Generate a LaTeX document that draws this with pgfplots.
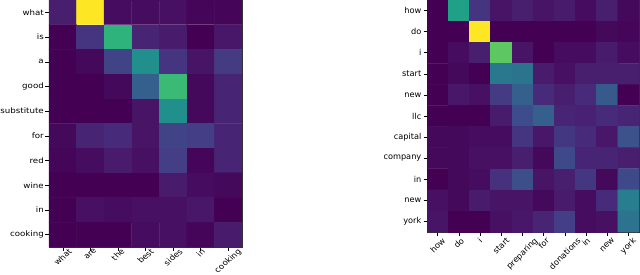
\documentclass[border=0pt]{standalone}
\usepackage{pgfplots}
\pgfplotsset{compat=1.18}
\usepackage{graphicx}
\usepackage{fontspec}
\setmainfont{DejaVu Sans}
\newcommand{\rl}[1]{\rotatebox{45}{#1}}
\newcommand{\lxl}[1]{\scalebox{1.14}[1]{\rotatebox{45}{#1}}}
\newcommand{\lyl}[1]{\scalebox{1.14}[1]{#1}}
\begin{document}
\begin{tikzpicture}
\pgfplotsset{
  hm/.style={
    scale only axis,
    y dir=reverse,
    enlargelimits=false,
    colormap/viridis,
    point meta min=0, point meta max=1,
    xtick pos=bottom, ytick pos=left,
    tick align=outside,
    major tick length=3.5pt,
    tick style={black, line width=0.5pt},
    axis line style={line width=0.6pt, black!80},
    x tick label style={anchor=north, inner sep=1.5pt},
    y tick label style={inner sep=2pt},
  }
}
\begin{axis}[hm, at={(49pt,0pt)}, anchor=north west, width=193pt, height=247pt,
  ticklabel style={font=\fontsize{7.6}{9}\selectfont},
  x tick label style={inner sep=0.5pt, yshift=3pt},
  y tick label style={inner sep=1.5pt},
  xmin=-0.5, xmax=6.5, ymin=-0.5, ymax=9.5,
  xtick={0,...,6}, ytick={0,...,9},
  xticklabels={\lxl{what},\lxl{are},\lxl{the},\lxl{best},\lxl{sides},\lxl{in},\lxl{cooking}},
  yticklabels={\lyl{what},\lyl{is},\lyl{a},\lyl{good},\lyl{substitute},\lyl{for},\lyl{red},\lyl{wine},\lyl{in},\lyl{cooking}}]
\addplot[matrix plot*, mesh/cols=7, point meta=explicit] coordinates {
(0,0)[0.08] (1,0)[1.00] (2,0)[0.03] (3,0)[0.03] (4,0)[0.04] (5,0)[0.01] (6,0)[0.01]

(0,1)[0.00] (1,1)[0.15] (2,1)[0.65] (3,1)[0.10] (4,1)[0.07] (5,1)[0.00] (6,1)[0.06]

(0,2)[0.00] (1,2)[0.02] (2,2)[0.20] (3,2)[0.50] (4,2)[0.15] (5,2)[0.05] (6,2)[0.17]

(0,3)[0.00] (1,3)[0.00] (2,3)[0.02] (3,3)[0.30] (4,3)[0.68] (5,3)[0.02] (6,3)[0.10]

(0,4)[0.00] (1,4)[0.00] (2,4)[0.00] (3,4)[0.05] (4,4)[0.50] (5,4)[0.02] (6,4)[0.10]

(0,5)[0.02] (1,5)[0.10] (2,5)[0.12] (3,5)[0.05] (4,5)[0.20] (5,5)[0.18] (6,5)[0.10]

(0,6)[0.01] (1,6)[0.03] (2,6)[0.07] (3,6)[0.04] (4,6)[0.18] (5,6)[0.01] (6,6)[0.10]

(0,7)[0.00] (1,7)[0.00] (2,7)[0.00] (3,7)[0.00] (4,7)[0.07] (5,7)[0.03] (6,7)[0.02]

(0,8)[0.00] (1,8)[0.04] (2,8)[0.03] (3,8)[0.04] (4,8)[0.04] (5,8)[0.06] (6,8)[0.00]

(0,9)[0.00] (1,9)[0.00] (2,9)[0.00] (3,9)[0.03] (4,9)[0.04] (5,9)[0.01] (6,9)[0.07]
};
\end{axis}
\begin{axis}[hm, at={(427pt,0pt)}, anchor=north west, width=212pt, height=232pt,
  ticklabel style={font=\fontsize{8.2}{10}\selectfont},
  xmin=-0.5, xmax=9.5, ymin=-0.5, ymax=10.5,
  xtick={0,...,9}, ytick={0,...,10},
  xticklabels={\rl{how},\rl{do},\rl{i},\rl{start},\rl{preparing},\rl{for},\rl{donations},\rl{in},\rl{new},\rl{york}},
  yticklabels={how,do,i,start,new,llc,capital,company,in,new,york}]
\addplot[matrix plot*, mesh/cols=10, point meta=explicit] coordinates {
(0,0)[0.00] (1,0)[0.57] (2,0)[0.15] (3,0)[0.05] (4,0)[0.08] (5,0)[0.05] (6,0)[0.07] (7,0)[0.03] (8,0)[0.08] (9,0)[0.02]

(0,1)[0.00] (1,1)[0.00] (2,1)[1.00] (3,1)[0.00] (4,1)[0.00] (5,1)[0.00] (6,1)[0.00] (7,1)[0.00] (8,1)[0.02] (9,1)[0.01]

(0,2)[0.00] (1,2)[0.03] (2,2)[0.08] (3,2)[0.75] (4,2)[0.05] (5,2)[0.00] (6,2)[0.03] (7,2)[0.03] (8,2)[0.07] (9,2)[0.03]

(0,3)[0.00] (1,3)[0.02] (2,3)[0.00] (3,3)[0.40] (4,3)[0.38] (5,3)[0.07] (6,3)[0.04] (7,3)[0.08] (8,3)[0.08] (9,3)[0.08]

(0,4)[0.00] (1,4)[0.06] (2,4)[0.04] (3,4)[0.17] (4,4)[0.30] (5,4)[0.12] (6,4)[0.08] (7,4)[0.12] (8,4)[0.28] (9,4)[0.00]

(0,5)[0.00] (1,5)[0.00] (2,5)[0.00] (3,5)[0.07] (4,5)[0.23] (5,5)[0.30] (6,5)[0.10] (7,5)[0.09] (8,5)[0.12] (9,5)[0.10]

(0,6)[0.02] (1,6)[0.02] (2,6)[0.03] (3,6)[0.03] (4,6)[0.15] (5,6)[0.06] (6,6)[0.16] (7,6)[0.12] (8,6)[0.06] (9,6)[0.25]

(0,7)[0.02] (1,7)[0.02] (2,7)[0.04] (3,7)[0.04] (4,7)[0.08] (5,7)[0.02] (6,7)[0.22] (7,7)[0.10] (8,7)[0.10] (9,7)[0.08]

(0,8)[0.00] (1,8)[0.02] (2,8)[0.03] (3,8)[0.14] (4,8)[0.24] (5,8)[0.05] (6,8)[0.08] (7,8)[0.16] (8,8)[0.02] (9,8)[0.22]

(0,9)[0.04] (1,9)[0.02] (2,9)[0.07] (3,9)[0.05] (4,9)[0.05] (5,9)[0.02] (6,9)[0.07] (7,9)[0.03] (8,9)[0.12] (9,9)[0.42]

(0,10)[0.05] (1,10)[0.00] (2,10)[0.00] (3,10)[0.04] (4,10)[0.06] (5,10)[0.10] (6,10)[0.18] (7,10)[0.03] (8,10)[0.04] (9,10)[0.38]
};
\end{axis}
\pgfresetboundingbox
\path (0pt,-274pt) rectangle (640pt,0pt);
\end{tikzpicture}
\end{document}
